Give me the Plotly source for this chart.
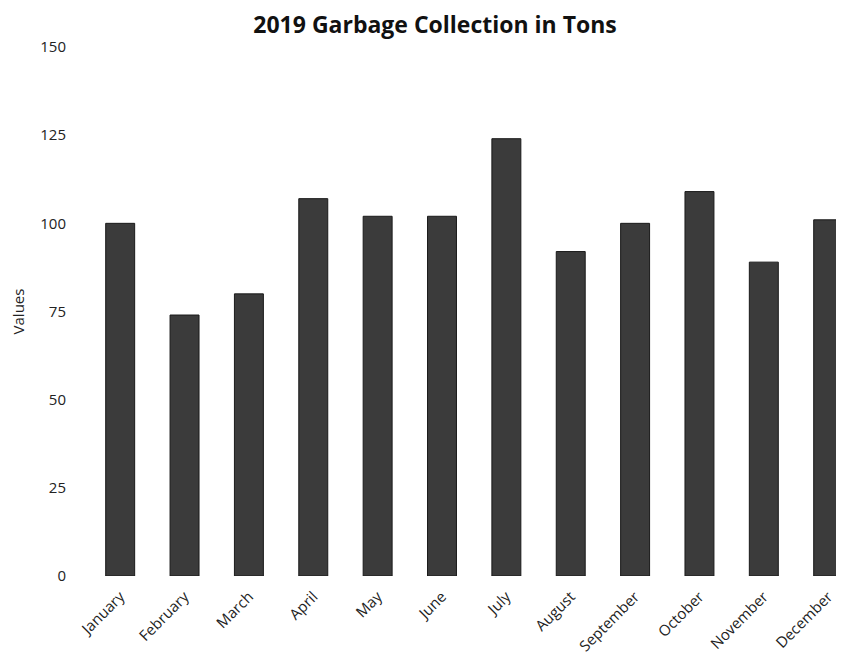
import plotly.graph_objects as go

months = ["January", "February", "March", "April", "May", "June", "July",
          "August", "September", "October", "November", "December"]
tons = [100, 74, 80, 107, 102, 102, 124, 92, 100, 109, 89, 101]
y_ticks = [0, 25, 50, 75, 100, 125, 150]

fig = go.Figure(go.Bar(
    x=list(range(len(months))), y=tons,
    marker=dict(color="#3b3b3b", line=dict(color="#1a1a1a", width=1)),
))

fig.update_layout(
    width=844, height=656,
    paper_bgcolor="white", plot_bgcolor="white",
    margin=dict(l=80, r=0, t=39, b=88),
    bargap=0.55,
    showlegend=False,
    font=dict(family="Open Sans, Noto Sans, sans-serif", color="#222", size=15),
    title=dict(text="<b>2019 Garbage Collection in Tons</b>", x=0.506, xanchor="center",
               y=0.974, yanchor="middle", font=dict(size=23, color="#111")),
    xaxis=dict(tickmode="array", tickvals=list(range(len(months))), ticktext=months,
               range=[-0.5, 11.37], tickangle=-45, showgrid=False, zeroline=False,
               showline=False, ticks="", ticklabelstandoff=8,
               tickfont=dict(size=15), automargin=False),
    yaxis=dict(range=[0, 150], tickmode="array", tickvals=y_ticks, showgrid=False,
               zeroline=False, showline=False, ticks="", ticklabelstandoff=21,
               automargin=False,
               title=dict(text="Values", standoff=30, font=dict(size=15)),
               tickfont=dict(size=15)),
)

fig.write_html("out.html")
